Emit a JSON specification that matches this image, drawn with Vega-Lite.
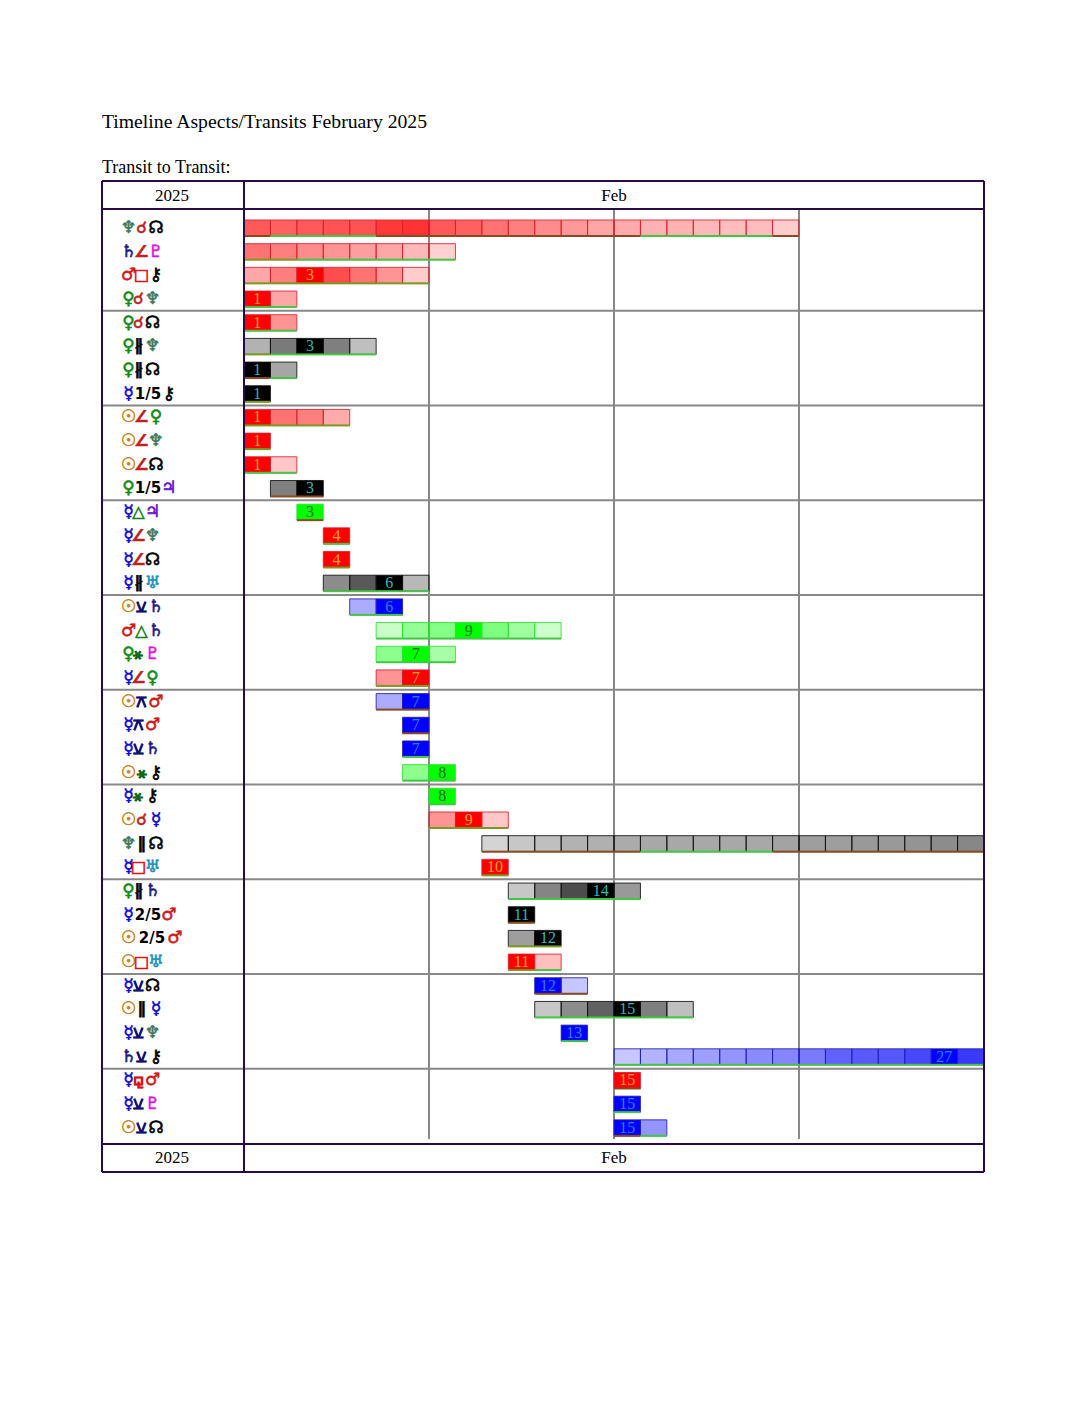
{
"$schema":"https://vega.github.io/schema/vega-lite/v6.json",
"width":1088,"height":1408,"padding":0,"background":"white",
"autosize":{"type":"fit","contains":"padding"},
"config":{"view":{"stroke":null}},
"datasets":{
"cells":[
{"row":0,"day":1,"end":2,"kind":"hard","strength":0.65,"phase":"a"},{"row":0,"day":2,"end":3,"kind":"hard","strength":0.62,"phase":"s"},{"row":0,"day":3,"end":4,"kind":"hard","strength":0.65,"phase":"s"},{"row":0,"day":4,"end":5,"kind":"hard","strength":0.68,"phase":"s"},{"row":0,"day":5,"end":6,"kind":"hard","strength":0.68,"phase":"s"},{"row":0,"day":6,"end":7,"kind":"hard","strength":0.78,"phase":"a"},{"row":0,"day":7,"end":8,"kind":"hard","strength":0.8,"phase":"a"},{"row":0,"day":8,"end":9,"kind":"hard","strength":0.65,"phase":"a"},{"row":0,"day":9,"end":10,"kind":"hard","strength":0.62,"phase":"a"},{"row":0,"day":10,"end":11,"kind":"hard","strength":0.55,"phase":"a"},{"row":0,"day":11,"end":12,"kind":"hard","strength":0.5,"phase":"a"},{"row":0,"day":12,"end":13,"kind":"hard","strength":0.45,"phase":"a"},{"row":0,"day":13,"end":14,"kind":"hard","strength":0.4,"phase":"a"},{"row":0,"day":14,"end":15,"kind":"hard","strength":0.35,"phase":"a"},{"row":0,"day":15,"end":16,"kind":"hard","strength":0.33,"phase":"a"},{"row":0,"day":16,"end":17,"kind":"hard","strength":0.3,"phase":"s"},{"row":0,"day":17,"end":18,"kind":"hard","strength":0.3,"phase":"s"},{"row":0,"day":18,"end":19,"kind":"hard","strength":0.28,"phase":"s"},{"row":0,"day":19,"end":20,"kind":"hard","strength":0.26,"phase":"s"},{"row":0,"day":20,"end":21,"kind":"hard","strength":0.26,"phase":"s"},{"row":0,"day":21,"end":22,"kind":"hard","strength":0.2,"phase":"a"},
{"row":1,"day":1,"end":2,"kind":"hard","strength":0.55,"phase":"m"},{"row":1,"day":2,"end":3,"kind":"hard","strength":0.5,"phase":"m"},{"row":1,"day":3,"end":4,"kind":"hard","strength":0.45,"phase":"s"},{"row":1,"day":4,"end":5,"kind":"hard","strength":0.42,"phase":"s"},{"row":1,"day":5,"end":6,"kind":"hard","strength":0.38,"phase":"s"},{"row":1,"day":6,"end":7,"kind":"hard","strength":0.35,"phase":"s"},{"row":1,"day":7,"end":8,"kind":"hard","strength":0.28,"phase":"s"},{"row":1,"day":8,"end":9,"kind":"hard","strength":0.18,"phase":"s"},
{"row":2,"day":1,"end":2,"kind":"hard","strength":0.35,"phase":"m"},{"row":2,"day":2,"end":3,"kind":"hard","strength":0.5,"phase":"m"},{"row":2,"day":3,"end":4,"kind":"hard","strength":1,"phase":"m","label":"3"},{"row":2,"day":4,"end":5,"kind":"hard","strength":0.7,"phase":"m"},{"row":2,"day":5,"end":6,"kind":"hard","strength":0.55,"phase":"m"},{"row":2,"day":6,"end":7,"kind":"hard","strength":0.42,"phase":"m"},{"row":2,"day":7,"end":8,"kind":"hard","strength":0.2,"phase":"m"},
{"row":3,"day":1,"end":2,"kind":"hard","strength":1,"phase":"s","label":"1"},{"row":3,"day":2,"end":3,"kind":"hard","strength":0.35,"phase":"s"},
{"row":4,"day":1,"end":2,"kind":"hard","strength":1,"phase":"s","label":"1"},{"row":4,"day":2,"end":3,"kind":"hard","strength":0.42,"phase":"s"},
{"row":5,"day":1,"end":2,"kind":"neutral","strength":0.3,"phase":"m"},{"row":5,"day":2,"end":3,"kind":"neutral","strength":0.52,"phase":"s"},{"row":5,"day":3,"end":4,"kind":"neutral","strength":1,"phase":"s","label":"3"},{"row":5,"day":4,"end":5,"kind":"neutral","strength":0.5,"phase":"s"},{"row":5,"day":5,"end":6,"kind":"neutral","strength":0.25,"phase":"s"},
{"row":6,"day":1,"end":2,"kind":"neutral","strength":1,"phase":"a","label":"1"},{"row":6,"day":2,"end":3,"kind":"neutral","strength":0.35,"phase":"s"},
{"row":7,"day":1,"end":2,"kind":"neutral","strength":1,"phase":"m","label":"1"},
{"row":8,"day":1,"end":2,"kind":"hard","strength":1,"phase":"m","label":"1"},{"row":8,"day":2,"end":3,"kind":"hard","strength":0.55,"phase":"m"},{"row":8,"day":3,"end":4,"kind":"hard","strength":0.5,"phase":"m"},{"row":8,"day":4,"end":5,"kind":"hard","strength":0.33,"phase":"m"},
{"row":9,"day":1,"end":2,"kind":"hard","strength":1,"phase":"m","label":"1"},
{"row":10,"day":1,"end":2,"kind":"hard","strength":1,"phase":"s","label":"1"},{"row":10,"day":2,"end":3,"kind":"hard","strength":0.22,"phase":"s"},
{"row":11,"day":2,"end":3,"kind":"neutral","strength":0.5,"phase":"a"},{"row":11,"day":3,"end":4,"kind":"neutral","strength":1,"phase":"a","label":"3"},
{"row":12,"day":3,"end":4,"kind":"soft","strength":1,"phase":"a","label":"3"},
{"row":13,"day":4,"end":5,"kind":"hard","strength":1,"phase":"s","label":"4"},
{"row":14,"day":4,"end":5,"kind":"hard","strength":1,"phase":"m","label":"4"},
{"row":15,"day":4,"end":5,"kind":"neutral","strength":0.45,"phase":"s"},{"row":15,"day":5,"end":6,"kind":"neutral","strength":0.65,"phase":"s"},{"row":15,"day":6,"end":7,"kind":"neutral","strength":1,"phase":"s","label":"6"},{"row":15,"day":7,"end":8,"kind":"neutral","strength":0.28,"phase":"s"},
{"row":16,"day":5,"end":6,"kind":"minor","strength":0.33,"phase":"s"},{"row":16,"day":6,"end":7,"kind":"minor","strength":1,"phase":"s","label":"6"},
{"row":17,"day":6,"end":7,"kind":"soft","strength":0.22,"phase":"s"},{"row":17,"day":7,"end":8,"kind":"soft","strength":0.42,"phase":"s"},{"row":17,"day":8,"end":9,"kind":"soft","strength":0.48,"phase":"s"},{"row":17,"day":9,"end":10,"kind":"soft","strength":1,"phase":"s","label":"9"},{"row":17,"day":10,"end":11,"kind":"soft","strength":0.5,"phase":"s"},{"row":17,"day":11,"end":12,"kind":"soft","strength":0.38,"phase":"s"},{"row":17,"day":12,"end":13,"kind":"soft","strength":0.2,"phase":"s"},
{"row":18,"day":6,"end":7,"kind":"soft","strength":0.45,"phase":"s"},{"row":18,"day":7,"end":8,"kind":"soft","strength":1,"phase":"s","label":"7"},{"row":18,"day":8,"end":9,"kind":"soft","strength":0.35,"phase":"s"},
{"row":19,"day":6,"end":7,"kind":"hard","strength":0.42,"phase":"m"},{"row":19,"day":7,"end":8,"kind":"hard","strength":1,"phase":"m","label":"7"},
{"row":20,"day":6,"end":7,"kind":"minor","strength":0.33,"phase":"a"},{"row":20,"day":7,"end":8,"kind":"minor","strength":1,"phase":"a","label":"7"},
{"row":21,"day":7,"end":8,"kind":"minor","strength":1,"phase":"a","label":"7"},
{"row":22,"day":7,"end":8,"kind":"minor","strength":1,"phase":"s","label":"7"},
{"row":23,"day":7,"end":8,"kind":"soft","strength":0.45,"phase":"s"},{"row":23,"day":8,"end":9,"kind":"soft","strength":1,"phase":"s","label":"8"},
{"row":24,"day":8,"end":9,"kind":"soft","strength":1,"phase":"s","label":"8"},
{"row":25,"day":8,"end":9,"kind":"hard","strength":0.42,"phase":"m"},{"row":25,"day":9,"end":10,"kind":"hard","strength":1,"phase":"m","label":"9"},{"row":25,"day":10,"end":11,"kind":"hard","strength":0.22,"phase":"m"},
{"row":26,"day":10,"end":11,"kind":"neutral","strength":0.17,"phase":"a"},{"row":26,"day":11,"end":12,"kind":"neutral","strength":0.22,"phase":"a"},{"row":26,"day":12,"end":13,"kind":"neutral","strength":0.25,"phase":"a"},{"row":26,"day":13,"end":14,"kind":"neutral","strength":0.3,"phase":"a"},{"row":26,"day":14,"end":15,"kind":"neutral","strength":0.31,"phase":"a"},{"row":26,"day":15,"end":16,"kind":"neutral","strength":0.33,"phase":"a"},{"row":26,"day":16,"end":17,"kind":"neutral","strength":0.34,"phase":"s"},{"row":26,"day":17,"end":18,"kind":"neutral","strength":0.34,"phase":"s"},{"row":26,"day":18,"end":19,"kind":"neutral","strength":0.34,"phase":"s"},{"row":26,"day":19,"end":20,"kind":"neutral","strength":0.34,"phase":"s"},{"row":26,"day":20,"end":21,"kind":"neutral","strength":0.34,"phase":"s"},{"row":26,"day":21,"end":22,"kind":"neutral","strength":0.36,"phase":"a"},{"row":26,"day":22,"end":23,"kind":"neutral","strength":0.38,"phase":"a"},{"row":26,"day":23,"end":24,"kind":"neutral","strength":0.38,"phase":"a"},{"row":26,"day":24,"end":25,"kind":"neutral","strength":0.4,"phase":"a"},{"row":26,"day":25,"end":26,"kind":"neutral","strength":0.4,"phase":"a"},{"row":26,"day":26,"end":27,"kind":"neutral","strength":0.42,"phase":"a"},{"row":26,"day":27,"end":28,"kind":"neutral","strength":0.45,"phase":"a"},{"row":26,"day":28,"end":29,"kind":"neutral","strength":0.47,"phase":"a"},
{"row":27,"day":10,"end":11,"kind":"hard","strength":1,"phase":"m","label":"10"},
{"row":28,"day":11,"end":12,"kind":"neutral","strength":0.22,"phase":"s"},{"row":28,"day":12,"end":13,"kind":"neutral","strength":0.48,"phase":"s"},{"row":28,"day":13,"end":14,"kind":"neutral","strength":0.7,"phase":"s"},{"row":28,"day":14,"end":15,"kind":"neutral","strength":1,"phase":"s","label":"14"},{"row":28,"day":15,"end":16,"kind":"neutral","strength":0.4,"phase":"s"},
{"row":29,"day":11,"end":12,"kind":"neutral","strength":1,"phase":"a","label":"11"},
{"row":30,"day":11,"end":12,"kind":"neutral","strength":0.38,"phase":"m"},{"row":30,"day":12,"end":13,"kind":"neutral","strength":1,"phase":"m","label":"12"},
{"row":31,"day":11,"end":12,"kind":"hard","strength":1,"phase":"m","label":"11"},{"row":31,"day":12,"end":13,"kind":"hard","strength":0.25,"phase":"s"},
{"row":32,"day":12,"end":13,"kind":"minor","strength":1,"phase":"a","label":"12"},{"row":32,"day":13,"end":14,"kind":"minor","strength":0.22,"phase":"a"},
{"row":33,"day":12,"end":13,"kind":"neutral","strength":0.22,"phase":"s"},{"row":33,"day":13,"end":14,"kind":"neutral","strength":0.45,"phase":"s"},{"row":33,"day":14,"end":15,"kind":"neutral","strength":0.62,"phase":"s"},{"row":33,"day":15,"end":16,"kind":"neutral","strength":1,"phase":"s","label":"15"},{"row":33,"day":16,"end":17,"kind":"neutral","strength":0.5,"phase":"s"},{"row":33,"day":17,"end":18,"kind":"neutral","strength":0.25,"phase":"s"},
{"row":34,"day":13,"end":14,"kind":"minor","strength":1,"phase":"s","label":"13"},
{"row":35,"day":15,"end":16,"kind":"minor","strength":0.22,"phase":"s"},{"row":35,"day":16,"end":17,"kind":"minor","strength":0.3,"phase":"s"},{"row":35,"day":17,"end":18,"kind":"minor","strength":0.34,"phase":"s"},{"row":35,"day":18,"end":19,"kind":"minor","strength":0.38,"phase":"s"},{"row":35,"day":19,"end":20,"kind":"minor","strength":0.42,"phase":"s"},{"row":35,"day":20,"end":21,"kind":"minor","strength":0.46,"phase":"s"},{"row":35,"day":21,"end":22,"kind":"minor","strength":0.48,"phase":"s"},{"row":35,"day":22,"end":23,"kind":"minor","strength":0.52,"phase":"s"},{"row":35,"day":23,"end":24,"kind":"minor","strength":0.62,"phase":"s"},{"row":35,"day":24,"end":25,"kind":"minor","strength":0.65,"phase":"s"},{"row":35,"day":25,"end":26,"kind":"minor","strength":0.66,"phase":"s"},{"row":35,"day":26,"end":27,"kind":"minor","strength":0.72,"phase":"s"},{"row":35,"day":27,"end":28,"kind":"minor","strength":1,"phase":"s","label":"27"},{"row":35,"day":28,"end":29,"kind":"minor","strength":0.78,"phase":"s"},
{"row":36,"day":15,"end":16,"kind":"hard","strength":1,"phase":"a","label":"15"},
{"row":37,"day":15,"end":16,"kind":"minor","strength":1,"phase":"s","label":"15"},
{"row":38,"day":15,"end":16,"kind":"minor","strength":1,"phase":"a","label":"15"},{"row":38,"day":16,"end":17,"kind":"minor","strength":0.42,"phase":"s"}
],
"aspects":[
{"row":0,"first":"♆","aspect":"☌","second":"☊","layout":"wide"},
{"row":1,"first":"♄","aspect":"∠","second":"♇","layout":"wide"},
{"row":2,"first":"♂","aspect":"□","second":"⚷","layout":"wide"},
{"row":3,"first":"♀","aspect":"☌","second":"♆","layout":"narrow"},
{"row":4,"first":"♀","aspect":"☌","second":"☊","layout":"narrow"},
{"row":5,"first":"♀","aspect":"∦","second":"♆","layout":"narrow"},
{"row":6,"first":"♀","aspect":"∦","second":"☊","layout":"narrow"},
{"row":7,"first":"☿","aspect":"1/5","second":"⚷","layout":"ratio"},
{"row":8,"first":"☉","aspect":"∠","second":"♀","layout":"wide"},
{"row":9,"first":"☉","aspect":"∠","second":"♆","layout":"wide"},
{"row":10,"first":"☉","aspect":"∠","second":"☊","layout":"wide"},
{"row":11,"first":"♀","aspect":"1/5","second":"♃","layout":"ratio"},
{"row":12,"first":"☿","aspect":"△","second":"♃","layout":"narrow"},
{"row":13,"first":"☿","aspect":"∠","second":"♆","layout":"narrow"},
{"row":14,"first":"☿","aspect":"∠","second":"☊","layout":"narrow"},
{"row":15,"first":"☿","aspect":"∦","second":"♅","layout":"narrow"},
{"row":16,"first":"☉","aspect":"⚺","second":"♄","layout":"wide"},
{"row":17,"first":"♂","aspect":"△","second":"♄","layout":"wide"},
{"row":18,"first":"♀","aspect":"⚹","second":"♇","layout":"narrow"},
{"row":19,"first":"☿","aspect":"∠","second":"♀","layout":"narrow"},
{"row":20,"first":"☉","aspect":"⚻","second":"♂","layout":"wide"},
{"row":21,"first":"☿","aspect":"⚻","second":"♂","layout":"narrow"},
{"row":22,"first":"☿","aspect":"⚺","second":"♄","layout":"narrow"},
{"row":23,"first":"☉","aspect":"⚹","second":"⚷","layout":"wide"},
{"row":24,"first":"☿","aspect":"⚹","second":"⚷","layout":"narrow"},
{"row":25,"first":"☉","aspect":"☌","second":"☿","layout":"wide"},
{"row":26,"first":"♆","aspect":"∥","second":"☊","layout":"wide"},
{"row":27,"first":"☿","aspect":"□","second":"♅","layout":"narrow"},
{"row":28,"first":"♀","aspect":"∦","second":"♄","layout":"narrow"},
{"row":29,"first":"☿","aspect":"2/5","second":"♂","layout":"ratio"},
{"row":30,"first":"☉","aspect":"2/5","second":"♂","layout":"ratioWide"},
{"row":31,"first":"☉","aspect":"□","second":"♅","layout":"wide"},
{"row":32,"first":"☿","aspect":"⚺","second":"☊","layout":"narrow"},
{"row":33,"first":"☉","aspect":"∥","second":"☿","layout":"wide"},
{"row":34,"first":"☿","aspect":"⚺","second":"♆","layout":"narrow"},
{"row":35,"first":"♄","aspect":"⚺","second":"⚷","layout":"wide"},
{"row":36,"first":"☿","aspect":"⚼","second":"♂","layout":"narrow"},
{"row":37,"first":"☿","aspect":"⚺","second":"♇","layout":"narrow"},
{"row":38,"first":"☉","aspect":"⚺","second":"☊","layout":"wide"}
],
"frame":[
{"day":-4.373,"end":29,"row":-1.985,"rowEnd":-1.985},
{"day":-4.373,"end":29,"row":-0.802,"rowEnd":-0.802},
{"day":-4.373,"end":29,"row":38.682,"rowEnd":38.682},
{"day":-4.373,"end":29,"row":39.865,"rowEnd":39.865},
{"day":-4.373,"end":-4.373,"row":-1.985,"rowEnd":39.865},
{"day":1,"end":1,"row":-1.985,"rowEnd":39.865},
{"day":29,"end":29,"row":-1.985,"rowEnd":39.865}
],
"gridLines":[
{"day":8,"end":8,"row":-0.802,"rowEnd":38.47},{"day":15,"end":15,"row":-0.802,"rowEnd":38.47},{"day":22,"end":22,"row":-0.802,"rowEnd":38.47},
{"day":-4.373,"end":29,"row":3.5,"rowEnd":3.5},{"day":-4.373,"end":29,"row":7.5,"rowEnd":7.5},{"day":-4.373,"end":29,"row":11.5,"rowEnd":11.5},{"day":-4.373,"end":29,"row":15.5,"rowEnd":15.5},{"day":-4.373,"end":29,"row":19.5,"rowEnd":19.5},{"day":-4.373,"end":29,"row":23.5,"rowEnd":23.5},{"day":-4.373,"end":29,"row":27.5,"rowEnd":27.5},{"day":-4.373,"end":29,"row":31.5,"rowEnd":31.5},{"day":-4.373,"end":29,"row":35.5,"rowEnd":35.5}
],
"heads":[{"text":"2025","day":-1.724,"row":-1.37},{"text":"Feb","day":15,"row":-1.37},{"text":"2025","day":-1.724,"row":39.29},{"text":"Feb","day":15,"row":39.29}]
},
"layer":[
{"data":{"name":"gridLines"},"mark":{"type":"rule","color":"#888888","strokeWidth":2},
 "encoding":{"x":{"field":"day","type":"quantitative","axis":null,"scale":{"domain":[-8.2324,32.935],"nice":false,"zero":false}},"x2":{"field":"end"},
 "y":{"field":"row","type":"quantitative","axis":null,"scale":{"domain":[-9.628,49.831],"reverse":true,"nice":false,"zero":false}},"y2":{"field":"rowEnd"}}},
{"data":{"name":"cells"},"mark":{"type":"rect","height":16,"strokeWidth":1,"strokeOpacity":0.85},
 "encoding":{"x":{"field":"day","type":"quantitative"},"x2":{"field":"end"},"y":{"field":"row","type":"quantitative"},
 "fill":{"field":"kind","type":"nominal","legend":null,"scale":{"domain":["hard","soft","minor","neutral"],"range":["#ff0000","#00ff00","#0000ff","#000000"]}},
 "fillOpacity":{"field":"strength","type":"quantitative","scale":null,"legend":null},
 "stroke":{"field":"kind","type":"nominal","legend":null,"scale":{"domain":["hard","soft","minor","neutral","s","m","a","☉","☿","♀","♂","♃","♄","♅","♆","♇","☊","⚷","☌","∠","□","⚼","△","⚹","⚺","⚻","∥","∦"],"range":["#d82030","#30e030","#2020b0","#101010","#44c644","#7a9a20","#8a4a20","#c8862a","#0808d0","#108a18","#d01818","#6a10d0","#201880","#2090b8","#407860","#e010e0","#000000","#000000","#c02020","#c02020","#e01010","#e01010","#108018","#106818","#101070","#101070","#000000","#000000"]}}}},
{"data":{"name":"cells"},"mark":{"type":"rule","strokeWidth":2,"yOffset":8},
 "encoding":{"x":{"field":"day","type":"quantitative"},"x2":{"field":"end"},"y":{"field":"row","type":"quantitative"},"stroke":{"field":"phase","type":"nominal","legend":null}}},
{"data":{"name":"cells"},"transform":[{"filter":"isValid(datum.label)"}],"mark":{"type":"text","font":"Liberation Serif","fontSize":16,"dx":13.2,"align":"center","baseline":"middle"},
 "encoding":{"x":{"field":"day","type":"quantitative"},"y":{"field":"row","type":"quantitative"},"text":{"field":"label"},
 "color":{"field":"kind","type":"nominal","legend":null,"scale":{
 "domain":["hard","soft","minor","neutral","☉","☿","♀","♂","♃","♄","♅","♆","♇","☊","⚷","☌","∠","□","⚼","△","⚹","⚺","⚻","∥","∦","1/5","2/5"],
 "range":["#ffa028","#107010","#2a80ff","#30b8b8","#c8862a","#0808d0","#108a18","#d01818","#6a10d0","#201880","#2090b8","#407860","#e010e0","#000000","#000000","#c02020","#c02020","#e01010","#e01010","#108018","#106818","#101070","#101070","#000000","#000000","#000000","#000000"]}}}},
{"data":{"name":"frame"},"mark":{"type":"rule","color":"#2a0a46","strokeWidth":2},
 "encoding":{"x":{"field":"day","type":"quantitative"},"x2":{"field":"end"},"y":{"field":"row","type":"quantitative"},"y2":{"field":"rowEnd"}}},
{"data":{"name":"heads"},"mark":{"type":"text","font":"Liberation Serif","fontSize":17,"align":"center","baseline":"middle","color":"#000000"},
 "encoding":{"x":{"field":"day","type":"quantitative"},"y":{"field":"row","type":"quantitative"},"text":{"field":"text"}}},
{"data":{"values":[{"text":"Timeline Aspects/Transits February 2025","day":-4.373,"row":-4.49}]},"mark":{"type":"text","font":"Liberation Serif","fontSize":19.7,"align":"left","baseline":"middle","color":"#000000"},
 "encoding":{"x":{"field":"day","type":"quantitative"},"y":{"field":"row","type":"quantitative"},"text":{"field":"text"}}},
{"data":{"values":[{"text":"Transit to Transit:","day":-4.373,"row":-2.55}]},"mark":{"type":"text","font":"Liberation Serif","fontSize":18,"align":"left","baseline":"middle","color":"#000000"},
 "encoding":{"x":{"field":"day","type":"quantitative"},"y":{"field":"row","type":"quantitative"},"text":{"field":"text"}}},
{"data":{"name":"aspects"},"mark":{"type":"text","font":"DejaVu Sans","fontWeight":"bold","fontSize":17,"strokeWidth":0.6,"align":"center","baseline":"middle"},
 "encoding":{"x":{"datum":-3.37,"type":"quantitative"},"y":{"field":"row","type":"quantitative"},"text":{"field":"first"},"color":{"field":"first","type":"nominal","legend":null},"stroke":{"field":"first","type":"nominal","legend":null}}},
{"data":{"name":"aspects"},"transform":[{"filter":"datum.layout=='wide'"}],"mark":{"type":"text","font":"DejaVu Sans","fontWeight":"bold","fontSize":16,"strokeWidth":0.6,"align":"center","baseline":"middle"},
 "encoding":{"x":{"datum":-2.878,"type":"quantitative"},"y":{"field":"row","type":"quantitative"},"text":{"field":"aspect"},"color":{"field":"aspect","type":"nominal","legend":null},"stroke":{"field":"aspect","type":"nominal","legend":null}}},
{"data":{"name":"aspects"},"transform":[{"filter":"datum.layout=='wide'"}],"mark":{"type":"text","font":"DejaVu Sans","fontWeight":"bold","fontSize":17,"strokeWidth":0.6,"align":"center","baseline":"middle"},
 "encoding":{"x":{"datum":-2.33,"type":"quantitative"},"y":{"field":"row","type":"quantitative"},"text":{"field":"second"},"color":{"field":"second","type":"nominal","legend":null},"stroke":{"field":"second","type":"nominal","legend":null}}},
{"data":{"name":"aspects"},"transform":[{"filter":"datum.layout=='narrow'"}],"mark":{"type":"text","font":"DejaVu Sans","fontWeight":"bold","fontSize":16,"strokeWidth":0.6,"align":"center","baseline":"middle"},
 "encoding":{"x":{"datum":-2.992,"type":"quantitative"},"y":{"field":"row","type":"quantitative"},"text":{"field":"aspect"},"color":{"field":"aspect","type":"nominal","legend":null},"stroke":{"field":"aspect","type":"nominal","legend":null}}},
{"data":{"name":"aspects"},"transform":[{"filter":"datum.layout=='narrow'"}],"mark":{"type":"text","font":"DejaVu Sans","fontWeight":"bold","fontSize":17,"strokeWidth":0.6,"align":"center","baseline":"middle"},
 "encoding":{"x":{"datum":-2.462,"type":"quantitative"},"y":{"field":"row","type":"quantitative"},"text":{"field":"second"},"color":{"field":"second","type":"nominal","legend":null},"stroke":{"field":"second","type":"nominal","legend":null}}},
{"data":{"name":"aspects"},"transform":[{"filter":"datum.layout=='ratio'"}],"mark":{"type":"text","font":"DejaVu Sans","fontWeight":"bold","fontSize":15,"align":"center","baseline":"middle"},
 "encoding":{"x":{"datum":-2.632,"type":"quantitative"},"y":{"field":"row","type":"quantitative"},"text":{"field":"aspect"},"color":{"field":"aspect","type":"nominal","legend":null}}},
{"data":{"name":"aspects"},"transform":[{"filter":"datum.layout=='ratio'"}],"mark":{"type":"text","font":"DejaVu Sans","fontWeight":"bold","fontSize":17,"strokeWidth":0.6,"align":"center","baseline":"middle"},
 "encoding":{"x":{"datum":-1.838,"type":"quantitative"},"y":{"field":"row","type":"quantitative"},"text":{"field":"second"},"color":{"field":"second","type":"nominal","legend":null},"stroke":{"field":"second","type":"nominal","legend":null}}},
{"data":{"name":"aspects"},"transform":[{"filter":"datum.layout=='ratioWide'"}],"mark":{"type":"text","font":"DejaVu Sans","fontWeight":"bold","fontSize":15,"align":"center","baseline":"middle"},
 "encoding":{"x":{"datum":-2.481,"type":"quantitative"},"y":{"field":"row","type":"quantitative"},"text":{"field":"aspect"},"color":{"field":"aspect","type":"nominal","legend":null}}},
{"data":{"name":"aspects"},"transform":[{"filter":"datum.layout=='ratioWide'"}],"mark":{"type":"text","font":"DejaVu Sans","fontWeight":"bold","fontSize":17,"strokeWidth":0.6,"align":"center","baseline":"middle"},
 "encoding":{"x":{"datum":-1.611,"type":"quantitative"},"y":{"field":"row","type":"quantitative"},"text":{"field":"second"},"color":{"field":"second","type":"nominal","legend":null},"stroke":{"field":"second","type":"nominal","legend":null}}}
]
}
